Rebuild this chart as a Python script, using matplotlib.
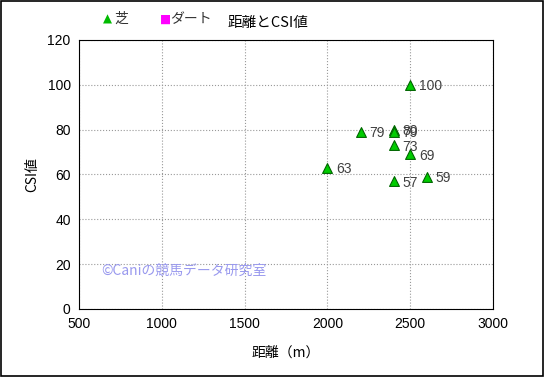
import matplotlib
matplotlib.use("Agg")
import matplotlib.pyplot as plt
from matplotlib.patches import Rectangle

plt.rcParams["font.family"] = ["Noto Sans CJK JP", "DejaVu Sans"]

# 芝 (turf) races: distance vs CSI
turf_dist = [2500, 2400, 2400, 2200, 2400, 2500, 2000, 2400, 2600]
turf_csi = [100, 80, 79, 79, 73, 69, 63, 57, 59]
turf_labels = ["100", "80", "79", "79", "73", "69", "63", "57", "59"]

# ダート (dirt) races: none in this chart
dirt_dist = []
dirt_csi = []

x_ticks = [500, 1000, 1500, 2000, 2500, 3000]
y_ticks = [0, 20, 40, 60, 80, 100, 120]

W, H = 545, 377
fig = plt.figure(figsize=(W / 100, H / 100), dpi=100)
fig.patch.set_facecolor("white")
ax = fig.add_axes([79 / W, 1 - 309 / H, (493 - 79) / W, (309 - 40) / H])

ax.scatter(turf_dist, turf_csi, marker="^", s=50, color="#00cc00",
           edgecolors="#006600", linewidths=0.8, zorder=3)
ax.scatter(dirt_dist, dirt_csi, marker="s", s=40, color="#ff00ff", zorder=3)

for x, y, t in zip(turf_dist, turf_csi, turf_labels):
    ax.annotate(t, (x, y), xytext=(6.5, -1), textcoords="offset points",
                ha="left", va="center", fontsize=10, color="#404040",
                family=["Liberation Sans", "DejaVu Sans"])

ax.set_xlim(500, 3000)
ax.set_ylim(0, 120)
ax.set_xticks(x_ticks)
ax.set_yticks(y_ticks)
ax.tick_params(labelsize=10, length=0, pad=6)
for lab in ax.get_xticklabels() + ax.get_yticklabels():
    lab.set_family(["Liberation Sans", "DejaVu Sans"])
ax.grid(True, linestyle=":", linewidth=0.8, color="#999999")
ax.set_axisbelow(True)
for sp in ax.spines.values():
    sp.set_color("#000000")
    sp.set_linewidth(0.8)

ax.set_xlabel("距離（m）", fontsize=10, labelpad=10)
ax.set_ylabel("CSI値", fontsize=10, labelpad=6)

# title and legend in the top strip
fig.text(268 / W, 1 - 23 / H, "距離とCSI値", ha="center", va="center", fontsize=10.5)
fig.text(103 / W, 1 - 19 / H, "▲", color="#00bb00", ha="left", va="center",
         fontsize=8.5, family=["DejaVu Sans"])
fig.text(114 / W, 1 - 19 / H, "芝", ha="left", va="center", fontsize=10, color="#333333")
fig.text(160 / W, 1 - 19 / H, "■", color="#ff00ff", ha="left", va="center",
         fontsize=8.5, family=["DejaVu Sans"])
fig.text(170 / W, 1 - 19 / H, "ダート", ha="left", va="center", fontsize=10, color="#333333")

ax.text(101 / W, 1 - 271 / H, "©Caniの競馬データ研究室", transform=fig.transFigure,
        ha="left", va="center", fontsize=10, color="#9999ee")

# outer frame
fig.patches.append(Rectangle((0.002, 0.003), 0.994, 0.994, transform=fig.transFigure,
                             fill=False, edgecolor="black", linewidth=1.2))

fig.savefig("out.png", dpi=100, facecolor="white")
